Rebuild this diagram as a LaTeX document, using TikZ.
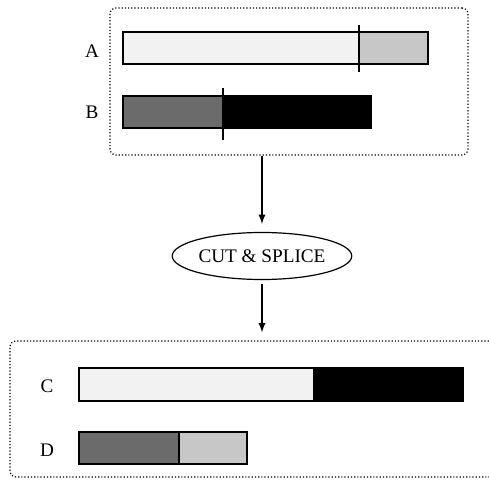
\documentclass[tikz,border=0pt]{standalone}
\usepackage{fontspec}
\setmainfont{Liberation Serif}
\usetikzlibrary{shapes.geometric,positioning}

\definecolor{pale}{gray}{0.95}
\definecolor{light}{gray}{0.78}
\definecolor{dark}{gray}{0.42}

\tikzset{
	frame/.style={draw, densely dotted, rounded corners=3pt, line width=0.6pt},
	bar/.style={draw, line width=0.6pt},
	cutline/.style={line width=0.6pt},
}

\begin{document}
\begin{tikzpicture}[x=0.5pt, y=-0.5pt, font=\fontsize{9.6}{11}\selectfont, >=latex]
			\useasboundingbox (0,0) rectangle (489,482);
			
			% parents
			\node (top) [frame, minimum width=179pt, minimum height=73.5pt] at (289,81.5) {};
			\node (A) at (92,51) {A};
			\node (B) at (92,112) {B};
			\filldraw[bar, fill=pale] (123,32) rectangle (359,64);
			\filldraw[bar, fill=light] (359,32) rectangle (428,64);
			\draw[cutline] (359,25) -- (359,72);
			\filldraw[bar, fill=dark] (123,96) rectangle (223,128);
			\filldraw[bar, fill=black] (223,96) rectangle (371,128);
			\draw[cutline] (223,88) -- (223,140);
			
			% operator
			\node (cut) [ellipse, draw, line width=0.6pt, inner sep=0pt, minimum width=75.5pt, minimum height=23.5pt] at (262,256) {CUT \& SPLICE};
			
			% children
			\node (bottom) [frame, minimum width=260pt, minimum height=68pt] at (270,409) {};
			\node (C) at (47,386) {C};
			\node (D) at (47,450) {D};
			\filldraw[bar, fill=pale] (79,368) rectangle (314,401);
			\filldraw[bar, fill=black] (314,368) rectangle (463,401);
			\filldraw[bar, fill=dark] (79,432) rectangle (179,464);
			\filldraw[bar, fill=light] (179,432) rectangle (247,464);
			
			\draw[->, line width=0.6pt, shorten >=4pt] (cut |- top.south) -- (cut.north);
			\draw[->, line width=0.6pt, shorten <=2pt, shorten >=4pt] (cut.south) -- (cut |- bottom.north);
		\end{tikzpicture}
\end{document}
